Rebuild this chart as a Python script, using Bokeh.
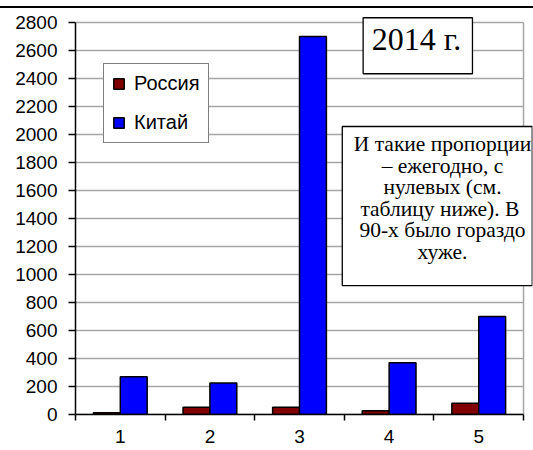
from bokeh.plotting import figure
from bokeh.models import Range1d, FixedTicker, Label, Legend, LegendItem, BoxAnnotation
from bokeh.embed import file_html
from bokeh.resources import INLINE

categories = ["1", "2", "3", "4", "5"]
russia = [12, 52, 52, 26, 81]
china = [270, 225, 2700, 370, 700]
y_ticks = [0, 200, 400, 600, 800, 1000, 1200, 1400, 1600, 1800, 2000, 2200, 2400, 2600, 2800]
series_names = ["Россия", "Китай"]
title_text = "2014 г."
note_text = "И такие пропорции\n– ежегодно, с\nнулевых (см.\nтаблицу ниже).  В\n90-х было гораздо\nхуже."

xs = list(range(1, len(categories) + 1))
x_lo, x_hi = 0.5, len(categories) + 0.5
y_top = y_ticks[-1]

# frame is a little larger than the plot area so the text boxes are not clipped
p = figure(width=533, height=442, output_backend="svg", toolbar_location=None,
           x_range=Range1d(x_lo, 5.6), y_range=Range1d(0, 2885.7),
           min_border_left=75, min_border_right=1, min_border_top=2, min_border_bottom=36,
           styles={"margin-top": "6px", "border-top": "2px solid black"})

# plot-area grid lines and right border (limited to the plot area)
p.segment(x0=[x_lo] * len(y_ticks), x1=[x_hi] * len(y_ticks), y0=y_ticks, y1=y_ticks,
          line_color="#a6a6a6", line_width=1.5, level="underlay")
p.segment(x0=[x_hi], x1=[x_hi], y0=[0], y1=[y_top],
          line_color="#a6a6a6", line_width=1.5, level="underlay")

r1 = p.vbar(x=[x - 0.15 for x in xs], top=russia, width=0.3, fill_color="#800000",
            line_color="black", line_width=1.5)
r2 = p.vbar(x=[x + 0.15 for x in xs], top=china, width=0.3, fill_color="#0000FF",
            line_color="black", line_width=1.5)

xt = FixedTicker(ticks=xs, minor_ticks=[x - 0.5 for x in xs] + [xs[-1] + 0.5])
p.xaxis.ticker = xt
p.xaxis.bounds = (x_lo, x_hi)
p.xaxis.major_label_overrides = {x: c for x, c in zip(xs, categories)}
p.xaxis.major_tick_out = 0
p.xaxis.major_tick_in = 0
p.xaxis.minor_tick_out = 6
p.xaxis.minor_tick_in = 0
p.xaxis.minor_tick_line_color = "black"
p.xaxis.minor_tick_line_width = 1.5
p.xaxis.major_label_standoff = 9

yt = FixedTicker(ticks=y_ticks)
p.yaxis.ticker = yt
p.yaxis.bounds = (0, y_top)
p.yaxis.major_tick_out = 7
p.yaxis.major_tick_in = 0
p.yaxis.major_tick_line_width = 1.5
p.yaxis.minor_tick_line_color = None
p.yaxis.major_label_standoff = 11

for ax in (p.xaxis, p.yaxis):
    ax.axis_line_color = "black"
    ax.axis_line_width = 1.5
    ax.major_label_text_font = "Liberation Sans"
    ax.major_label_text_font_size = "19px"
    ax.major_label_text_color = "black"

p.xgrid.visible = False
p.ygrid.visible = False
p.outline_line_color = None

legend = Legend(items=[LegendItem(label=series_names[0], renderers=[r1]),
                       LegendItem(label=series_names[1], renderers=[r2])],
                location=(28, 271), border_line_color="black", border_line_width=1.3,
                background_fill_color="white", background_fill_alpha=1,
                label_text_font="Liberation Sans", label_text_font_size="20px",
                label_text_color="black",
                glyph_width=13, glyph_height=13, spacing=16, padding=8,
                label_standoff=9, margin=0)
p.add_layout(legend)

# text boxes
p.add_layout(BoxAnnotation(left=3.71, right=4.93, bottom=2434, top=2834,
                           fill_color="white", fill_alpha=1,
                           line_color="black", line_width=1.3, line_alpha=1))
p.add_layout(Label(x=4.306, y=2684, text=title_text, text_font="Liberation Serif",
                   text_font_size="32px", text_align="center", text_baseline="middle",
                   text_color="black"))
p.add_layout(BoxAnnotation(left=3.477, right=5.597, bottom=921, top=2057,
                           fill_color="white", fill_alpha=1,
                           line_color="black", line_width=1.3, line_alpha=1))
p.add_layout(Label(x=4.596, y=1546, text=note_text, text_font="Liberation Serif",
                   text_font_size="21.5px", text_align="center", text_baseline="middle",
                   text_color="black", text_line_height=0.9))

open("out.html", "w").write(file_html(p, INLINE))
